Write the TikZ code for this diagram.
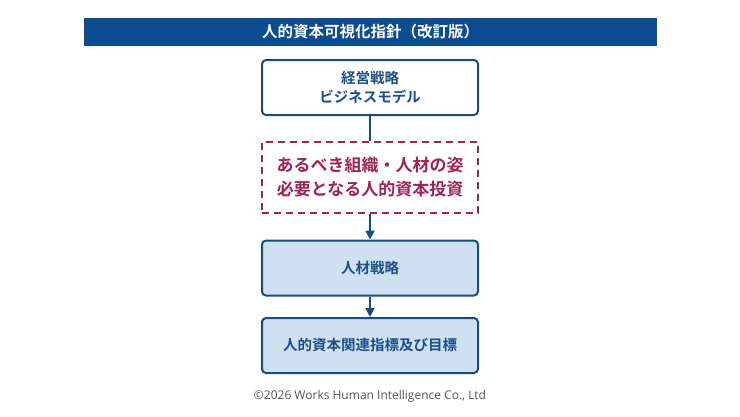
\documentclass[tikz,border=0pt]{standalone}
\usepackage{fontspec}
\setmainfont{Open Sans}
\newfontfamily\jp{Noto Sans CJK JP}[BoldFont={Noto Sans CJK JP Bold}]
\usetikzlibrary{arrows.meta}
\definecolor{barblue}{RGB}{12,76,145}
\definecolor{lineblue}{RGB}{22,76,128}
\definecolor{textblue}{RGB}{28,78,138}
\definecolor{fillblue}{RGB}{207,224,243}
\definecolor{crimson}{RGB}{160,35,88}
\definecolor{copygray}{RGB}{85,85,85}
\tikzset{
  stage/.style={draw=lineblue, line width=2pt, rounded corners=4pt,
    minimum width=216pt, minimum height=55pt, align=center,
    font=\jp\bfseries\fontsize{14.5}{19}\selectfont, text=textblue},
  link/.style={draw=lineblue, line width=2pt},
}
\begin{document}
\begin{tikzpicture}[x=1pt, y=1pt]
    \useasboundingbox (0,0) rectangle (740,-416);
    \node[fill=barblue, minimum width=573pt, minimum height=28pt, text=white,
      font=\jp\bfseries\fontsize{15.5}{17}\selectfont] at (370.5,-32) (T) {人的資本可視化指針（改訂版）};
    \node[stage, fill=white] at (370,-87.5) (M) {経営戦略\\ビジネスモデル};
    \node[draw=crimson, line width=2pt, dash pattern=on 7pt off 5pt,
      minimum width=216pt, minimum height=71pt, align=center, text=crimson,
      font=\jp\bfseries\fontsize{17}{24}\selectfont] at (370,-177.5) (H) {あるべき組織・人材の姿\\必要となる人的資本投資};
    \node[stage, fill=fillblue] at (370,-268) (S) {人材戦略};
    \node[stage, fill=fillblue] at (370,-345.5) (K) {人的資本関連指標及び目標};
    \node[text=copygray, font=\fontsize{12}{14}\selectfont] at (370,-396) (C) {©2026 Works Human Intelligence Co., Ltd};

    \draw[link] (M) -- (H);
    \draw[link, -{Triangle[length=9pt, width=9pt]}] (H) -- (S);
    \draw[link, -{Triangle[length=9pt, width=9pt]}] (S) -- (K);
\end{tikzpicture}
\end{document}
